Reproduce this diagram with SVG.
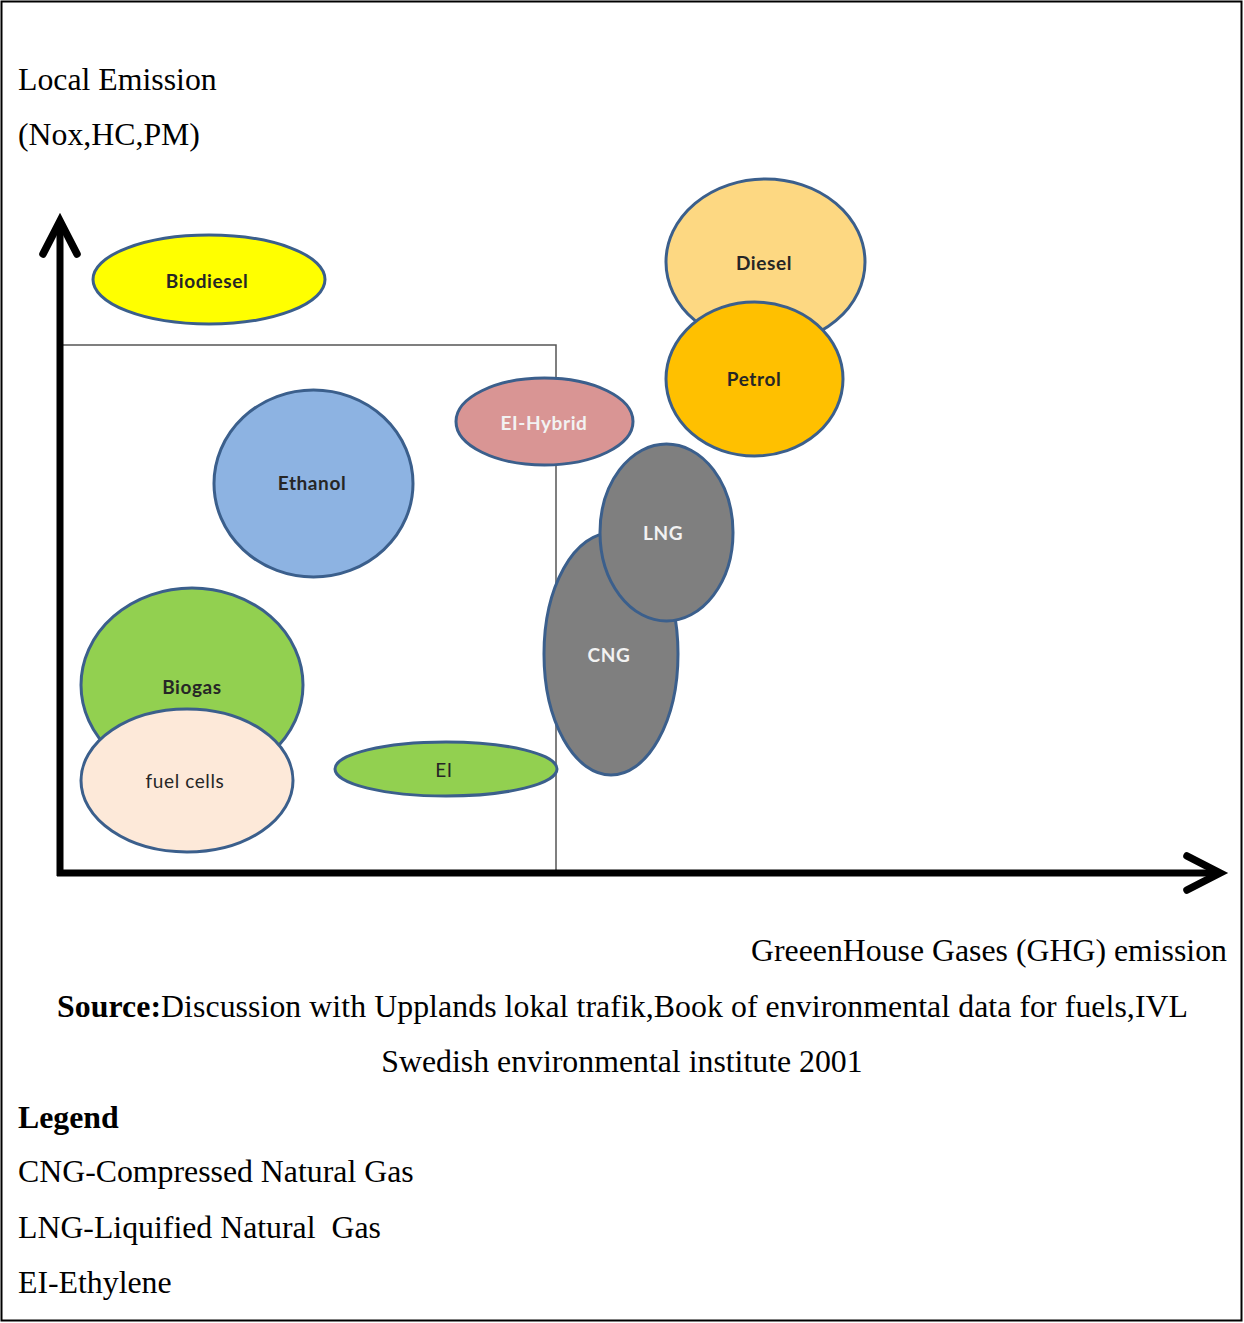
<svg xmlns="http://www.w3.org/2000/svg" width="1244" height="1323" viewBox="0 0 1244 1323">
<style>
.node ellipse{stroke:#3b5f8c;stroke-width:3}
.lbl{font-family:Lato,"Open Sans","Liberation Sans",sans-serif;font-weight:bold;font-size:19px;letter-spacing:0.6px;text-anchor:middle;dominant-baseline:central;fill:#262626}
.wl{fill:#f2f2f2}
.t{font-family:"Liberation Serif","Times New Roman",serif;font-size:31.8px;fill:#000}
.b{font-weight:bold}
</style>
<defs>
<marker id="chev" markerUnits="userSpaceOnUse" orient="auto" refX="0" refY="0" markerWidth="1" markerHeight="1" overflow="visible">
<path d="M-33,-17 L0,0 L-33,17" fill="none" stroke="#000" stroke-width="7.5" stroke-linecap="round" stroke-linejoin="miter"/>
</marker>
</defs>
<rect x="1.5" y="1.5" width="1240" height="1319" fill="#fff" stroke="#000" stroke-width="2"/>
<g id="connectors">
<polyline points="60,345 556,345 556,873" fill="none" stroke="#555" stroke-width="1.5"/>
<line x1="60" y1="876" x2="60" y2="221" stroke="#000" stroke-width="7" marker-end="url(#chev)"/>
<line x1="57" y1="873" x2="1220" y2="873" stroke="#000" stroke-width="7" marker-end="url(#chev)"/>
</g>
<g id="biodiesel" class="node"><ellipse cx="209" cy="279.5" rx="116" ry="44.5" fill="#ffff00"/><text class="lbl" x="207" y="280">Biodiesel</text></g>
<g id="diesel" class="node"><ellipse cx="765.5" cy="262" rx="99.5" ry="83" fill="#fdd882"/><text class="lbl" x="764" y="262">Diesel</text></g>
<g id="petrol" class="node"><ellipse cx="754.5" cy="379" rx="88.5" ry="77" fill="#ffc000"/><text class="lbl" x="754" y="378">Petrol</text></g>
<g id="el-hybrid" class="node"><ellipse cx="544.5" cy="421.5" rx="88.5" ry="43.5" fill="#d99594"/><text class="lbl wl" x="544" y="422">EI-Hybrid</text></g>
<g id="ethanol" class="node"><ellipse cx="313.5" cy="483.5" rx="99.5" ry="93.5" fill="#8db3e2"/><text class="lbl" x="312" y="482">Ethanol</text></g>
<g id="cng" class="node"><ellipse cx="611" cy="654" rx="67" ry="121" fill="#7f7f7f"/><text class="lbl wl" x="609" y="654">CNG</text></g>
<g id="lng" class="node"><ellipse cx="666.5" cy="532.5" rx="66.5" ry="88.5" fill="#7f7f7f"/><text class="lbl wl" x="663" y="532">LNG</text></g>
<g id="biogas" class="node"><ellipse cx="192" cy="685" rx="111" ry="97" fill="#92d050"/><text class="lbl" x="192" y="686">Biogas</text></g>
<g id="fuelcells" class="node"><ellipse cx="187" cy="780.5" rx="106" ry="71.5" fill="#fde9d9"/><text class="lbl" x="185" y="780" style="font-weight:normal">fuel cells</text></g>
<g id="el" class="node"><ellipse cx="446" cy="769" rx="111" ry="27" fill="#92d050"/><text class="lbl" x="444" y="769" style="font-weight:normal">EI</text></g>
<text class="t" x="18" y="90">Local Emission</text>
<text class="t" x="18" y="145">(Nox,HC,PM)</text>
<text class="t" x="1227" y="961" text-anchor="end">GreeenHouse Gases (GHG) emission</text>
<text class="t" x="57" y="1017" textLength="1131" lengthAdjust="spacing"><tspan class="b">Source:</tspan>Discussion with Upplands lokal trafik,Book of environmental data for fuels,IVL</text>
<text class="t" x="622" y="1072" text-anchor="middle">Swedish environmental institute 2001</text>
<text class="t b" x="18" y="1128">Legend</text>
<text class="t" x="18" y="1182">CNG-Compressed Natural Gas</text>
<text class="t" x="18" y="1238" xml:space="preserve">LNG-Liquified Natural  Gas</text>
<text class="t" x="18" y="1293">EI-Ethylene</text>
</svg>
